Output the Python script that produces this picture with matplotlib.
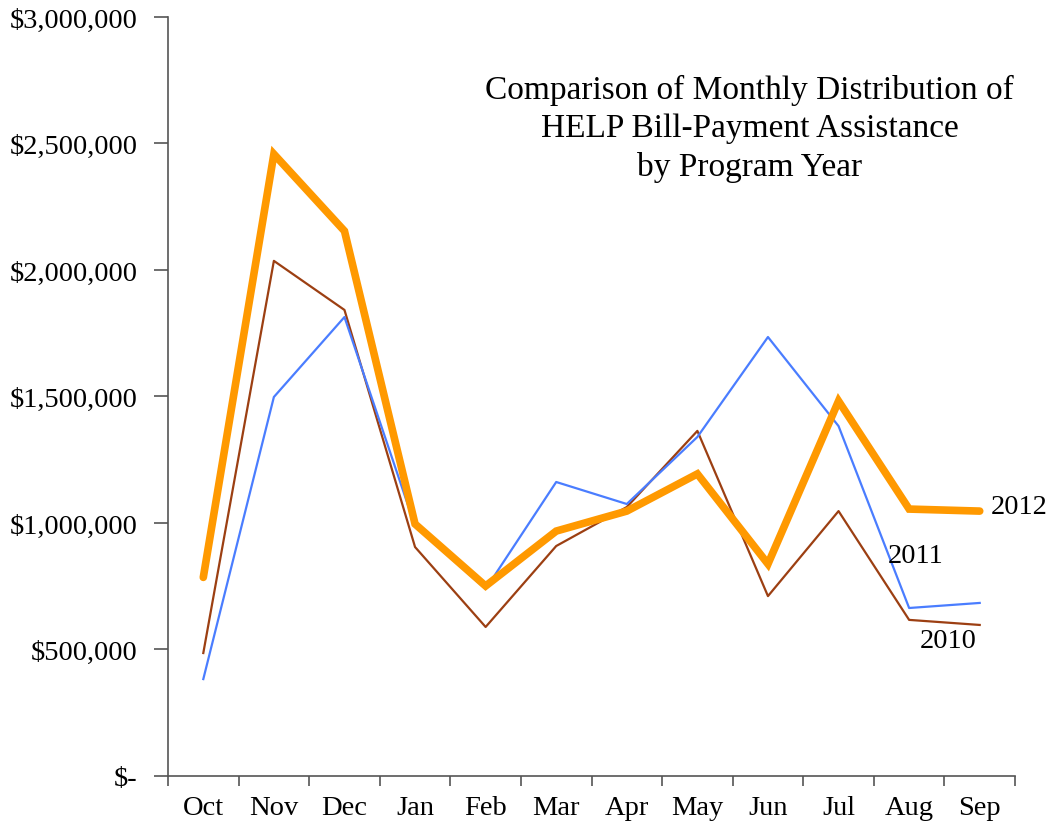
import matplotlib
matplotlib.use("Agg")
import matplotlib.pyplot as plt
from matplotlib.ticker import FuncFormatter, FixedLocator
import numpy as np

plt.rcParams['font.family'] = ['Liberation Serif', 'DejaVu Serif']

months = ['Oct', 'Nov', 'Dec', 'Jan', 'Feb', 'Mar', 'Apr', 'May', 'Jun', 'Jul', 'Aug', 'Sep']
y2010 = [486000, 2036000, 1842000, 905000, 589000, 909000, 1063000, 1364000, 711000, 1047000, 617000, 597000]
y2011 = [383000, 1498000, 1814000, 988000, 739000, 1162000, 1075000, 1340000, 1735000, 1383000, 664000, 684000]
y2012 = [785000, 2458000, 2154000, 996000, 751000, 968000, 1047000, 1194000, 838000, 1482000, 1055000, 1047000]

fig = plt.figure(figsize=(10.54, 8.28), dpi=100)
ax = fig.add_axes([0.1594, 0.0616, 0.8036, 0.9167])

x = np.arange(len(months))
ax.plot(x, y2010, color='#9C3F12', lw=1.6, zorder=2)
ax.plot(x, y2011, color='#4A7DFF', lw=1.6, zorder=3)
ax.plot(x, y2012, color='#FF9900', lw=5.5, solid_capstyle='round',
        solid_joinstyle='miter', zorder=4)

ax.set_xlim(-0.5, 11.5)
ax.set_ylim(0, 3000000)
ax.set_yticks(np.arange(0, 3000001, 500000))


def money(v, pos):
    if v == 0:
        return '$-'
    return '${:,.0f}'.format(v)


ax.yaxis.set_major_formatter(FuncFormatter(money))
ax.set_xticks(x)
ax.set_xticklabels(months)
ax.xaxis.set_minor_locator(FixedLocator(np.arange(-0.5, 12, 1)))
ax.tick_params(axis='x', which='major', length=0, pad=14, labelsize=20.5)
ax.tick_params(axis='x', which='minor', length=7, width=1.2, color='#555555', direction='out')
ax.tick_params(axis='y', length=10, width=1.2, color='#555555', direction='out', pad=12, labelsize=20.5)

for s in ['top', 'right']:
    ax.spines[s].set_visible(False)
for s in ['left', 'bottom']:
    ax.spines[s].set_color('#555555')
    ax.spines[s].set_linewidth(1.2)

ax.text(7.74, 2560000, 'Comparison of Monthly Distribution of\nHELP Bill-Payment Assistance\nby Program Year',
        ha='center', va='center', fontsize=24, linespacing=1.32)

ax.text(11.15, 1065000, '2012', ha='left', va='center', fontsize=20.5)
ax.text(9.7, 870000, '2011', ha='left', va='center', fontsize=20.5)
ax.text(10.15, 535000, '2010', ha='left', va='center', fontsize=20.5)

fig.savefig('out.png', dpi=100)
